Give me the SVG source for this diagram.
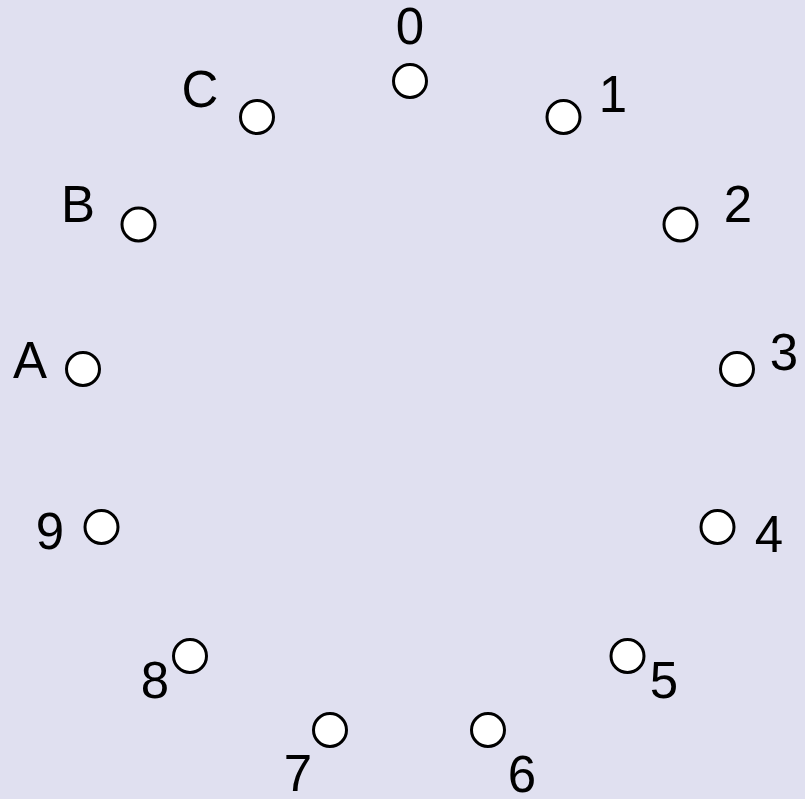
<svg xmlns="http://www.w3.org/2000/svg" width="805" height="799" viewBox="0 0 805 799">
<style>
.n{fill:#ffffff;stroke:#000000;stroke-width:3}
.t{font-family:"Liberation Sans",Arial,sans-serif;font-size:51px;fill:#000000;text-anchor:middle}
</style>
<rect width="805" height="799" fill="#e0e0f0"/>
<g id="connectors"></g>
<g id="node-0"><circle class="n" cx="410" cy="81" r="16.5"/><text class="t" x="410" y="44">0</text></g>
<g id="node-1"><circle class="n" cx="563.5" cy="117" r="16.5"/><text class="t" x="613" y="112">1</text></g>
<g id="node-2"><circle class="n" cx="680.5" cy="224.5" r="16.5"/><text class="t" x="738" y="222">2</text></g>
<g id="node-3"><circle class="n" cx="737" cy="369" r="16.5"/><text class="t" x="784" y="370">3</text></g>
<g id="node-4"><circle class="n" cx="717.5" cy="527" r="16.5"/><text class="t" x="769" y="552">4</text></g>
<g id="node-5"><circle class="n" cx="627.5" cy="656" r="16.5"/><text class="t" x="664" y="698">5</text></g>
<g id="node-6"><circle class="n" cx="488" cy="730" r="16.5"/><text class="t" x="522" y="792">6</text></g>
<g id="node-7"><circle class="n" cx="330" cy="730" r="16.5"/><text class="t" x="298" y="791">7</text></g>
<g id="node-8"><circle class="n" cx="190" cy="656" r="16.5"/><text class="t" x="155" y="698">8</text></g>
<g id="node-9"><circle class="n" cx="101.5" cy="527" r="16.5"/><text class="t" x="50" y="549">9</text></g>
<g id="node-A"><circle class="n" cx="83" cy="369" r="16.5"/><text class="t" x="30" y="378">A</text></g>
<g id="node-B"><circle class="n" cx="138.5" cy="224.5" r="16.5"/><text class="t" x="78" y="222">B</text></g>
<g id="node-C"><circle class="n" cx="257" cy="117" r="16.5"/><text class="t" x="200" y="107">C</text></g>
</svg>
